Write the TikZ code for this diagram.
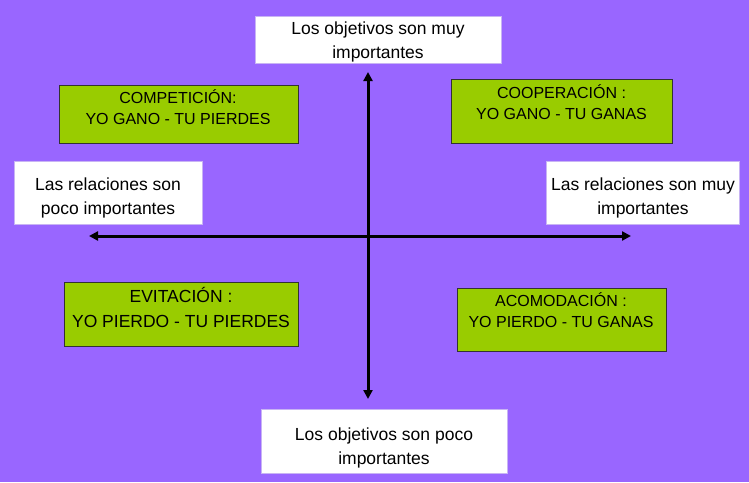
\documentclass[tikz,border=0pt]{standalone}
\usepackage{fontspec}
\setmainfont{Liberation Sans}
\usetikzlibrary{arrows.meta}
\definecolor{bgpurple}{HTML}{9966FF}
\definecolor{boxgreen}{HTML}{99CC00}
\definecolor{wborder}{HTML}{C8B4F4}
\definecolor{gborder}{HTML}{333333}
\tikzset{
  wbox/.style={draw=wborder, line width=0.8pt, fill=white, anchor=north west, inner sep=0pt},
  gbox/.style={draw=gborder, line width=1pt, fill=boxgreen, anchor=north west, inner sep=0pt},
  wtext/.style={align=center, inner sep=0pt, font=\fontsize{17.5}{24}\selectfont},
  gtext/.style={align=center, inner sep=0pt, font=\fontsize{16}{21}\selectfont},
  etext/.style={align=center, inner sep=0pt, font=\fontsize{17.5}{25}\selectfont},
  axis/.style={line width=3pt, {Triangle[length=9pt,width=9pt]}-{Triangle[length=9pt,width=9pt]}}
}
\begin{document}
\begin{tikzpicture}[x=1pt,y=-1pt]
\useasboundingbox (0,0) rectangle (749,482);
\fill[bgpurple] (0,0) rectangle (749,482);

% white boxes
\node[wbox, minimum width=246pt, minimum height=47pt] (topbox) at (255,16) {};
\node[wtext] (toptext) at (378,41.5) {Los objetivos son muy\\importantes};

\node[wbox, minimum width=246pt, minimum height=64pt] (botbox) at (261,409) {};
\node[wtext] (bottext) at (384,447.5) {Los objetivos son poco\\importantes};

\node[wbox, minimum width=188pt, minimum height=63pt] (leftbox) at (14,161) {};
\node[wtext] (lefttext) at (108,197.5) {Las relaciones son\\poco importantes};

\node[wbox, minimum width=193pt, minimum height=63pt] (rightbox) at (546,161) {};
\node[wtext] (righttext) at (643,197.5) {Las relaciones son muy\\importantes};

% green boxes
\node[gbox, minimum width=239pt, minimum height=58pt] (compbox) at (59,85) {};
\node[gtext] (comptext) at (178,107.5) {COMPETICIÓN:\\YO GANO - TU PIERDES};

\node[gbox, minimum width=221pt, minimum height=64pt] (coopbox) at (451,79) {};
\node[gtext] (cooptext) at (561.5,102) {COOPERACIÓN :\\YO GANO - TU GANAS};

\node[gbox, minimum width=234pt, minimum height=64pt] (evitbox) at (64,282) {};
\node[etext] (evittext) at (181,307.5) {EVITACIÓN :\\YO PIERDO - TU PIERDES};

\node[gbox, minimum width=209pt, minimum height=63pt] (acombox) at (457,288) {};
\node[gtext] (acomtext) at (561,310.5) {ACOMODACIÓN :\\YO PIERDO - TU GANAS};

% axes
\coordinate (vtop) at (368,72);
\coordinate (vbot) at (368,399);
\coordinate (hleft) at (89,236);
\coordinate (hright) at (631,236);
\draw[axis] (vtop) -- (vbot);
\draw[axis] (hleft) -- (hright);
\end{tikzpicture}
\end{document}
